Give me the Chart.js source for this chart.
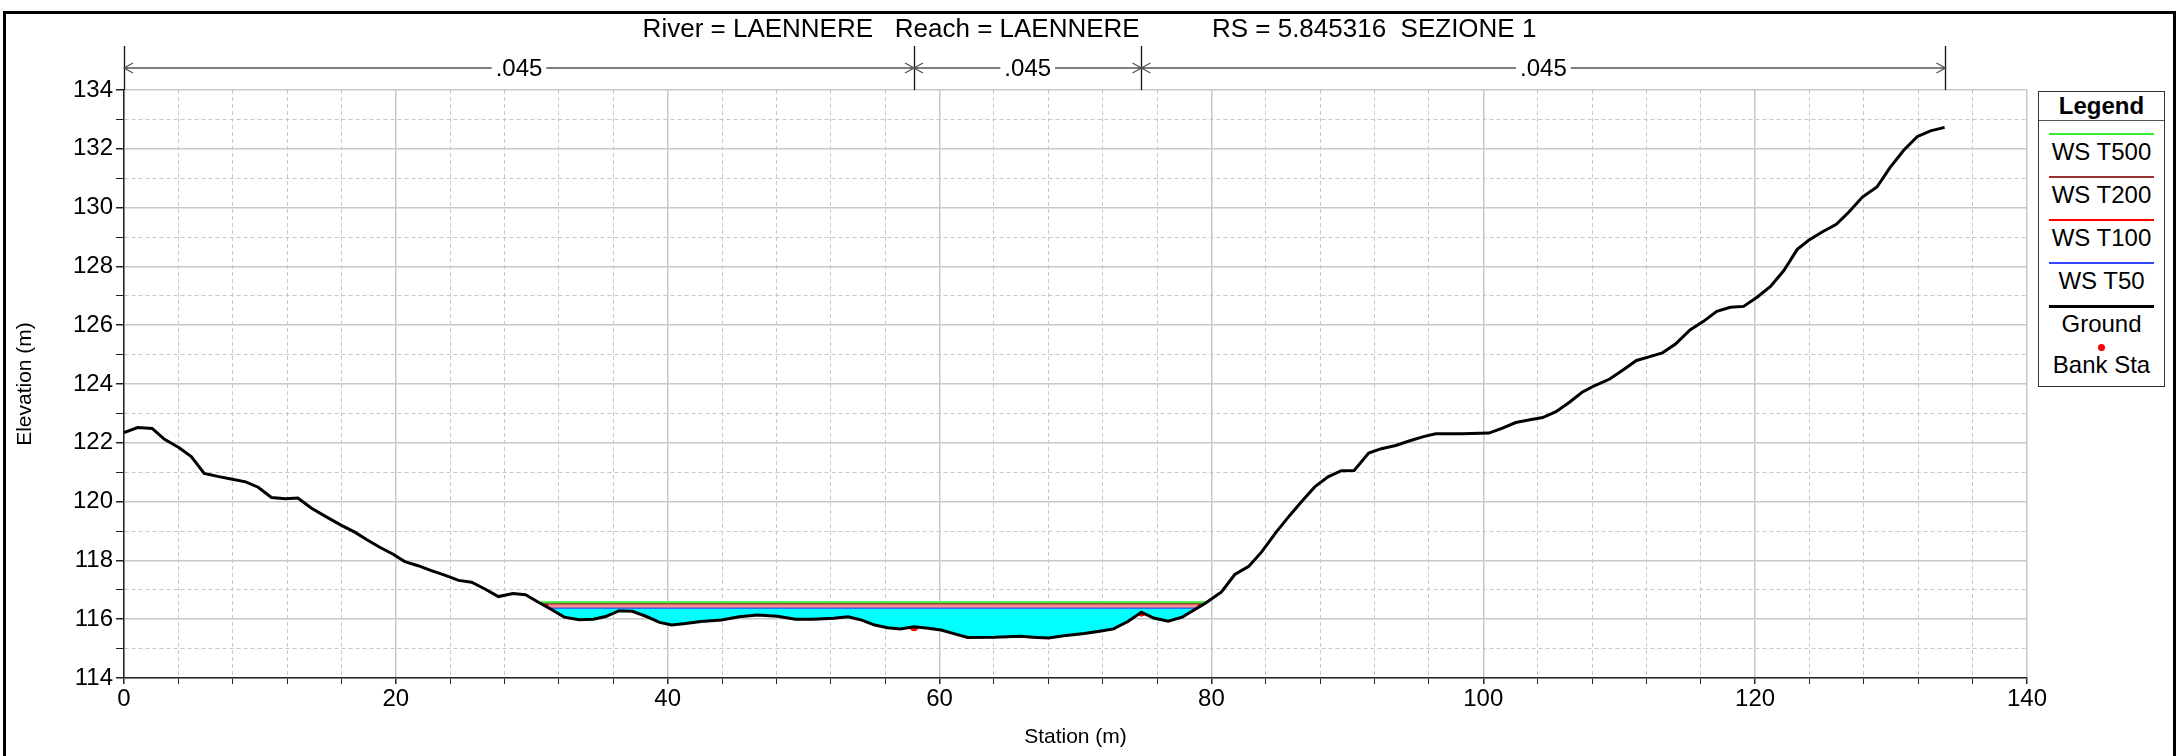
<!DOCTYPE html>
<html lang="it">
<head>
  <meta charset="UTF-8" />
  <title>RS 5.845316 SEZIONE 1</title>
  <script src="https://cdn.jsdelivr.net/npm/chart.js"></script>
<style>
  body {
    margin: 0;
    background: white;
    font-family: "Liberation Sans", Arial, sans-serif;
  }
  #wrap {
    position: relative;
    width: 2179px;
    height: 756px;
  }
  #legend {
    position: absolute;
    left: 2038px;
    top: 91px;
    width: 125px;
    height: 294px;
    border: 1.5px solid #333;
    background: white;
    font-size: 24px;
    text-align: center;
  }
  #legend .head {
    height: 28px;
    line-height: 28px;
    font-weight: bold;
    border-bottom: 1.5px solid #555;
  }
  #legend .item {
    height: 43px;
    position: relative;
  }
  #legend .swatch {
    position: absolute;
    left: 10px;
    right: 10px;
    top: 12px;
  }
  #legend .lbl {
    position: absolute;
    left: 0;
    right: 0;
    top: 17px;
  }
  .dot {
    width: 7px;
    height: 7px;
    border-radius: 4px;
    background: red;
    margin: 0 auto;
  }
</style>
</head>
<body>
  <div id="wrap">
    <canvas id="chart"></canvas>
    <div id="legend"></div>
  </div>

  <script>
    // --- dati ---
    const titleText = "River = LAENNERE   Reach = LAENNERE          RS = 5.845316  SEZIONE 1";

    const groundSta = [0, 1.0, 2.07, 2.98, 4.03, 4.95, 5.9, 6.98, 7.97, 8.95, 9.87, 10.85, 11.9, 12.79,
      13.77, 14.85, 16.0, 16.98, 17.87, 18.85, 19.77, 20.66, 21.64, 22.56, 23.54, 24.62, 25.57, 26.59,
      27.54, 28.62, 29.54, 30.52, 31.48, 32.39, 33.48, 34.52, 35.44, 36.43, 37.4, 38.4, 39.4, 40.3,
      41.3, 42.44, 43.95, 45.26, 46.58, 48.08, 49.4, 50.7, 52.2, 53.27, 54.28, 55.23, 56.17, 57.1,
      58.12, 59.17, 60.11, 61.05, 62.07, 64.06, 65.94, 66.88, 68.0, 69.14, 70.64, 71.77, 72.8, 73.85,
      74.85, 75.75, 76.82, 77.85, 79.58, 80.74, 81.72, 82.75, 83.68, 84.78, 85.76, 86.67, 87.6, 88.58,
      89.56, 90.5, 91.57, 92.5, 93.55, 94.6, 95.6, 96.5, 98.45, 100.42, 101.41, 102.39, 103.24, 104.37,
      105.35, 106.34, 107.27, 108.17, 109.3, 110.28, 111.27, 112.25, 113.18, 114.14, 115.21, 116.2,
      117.18, 118.17, 119.15, 120.14, 121.13, 122.11, 123.1, 123.94, 124.93, 125.97, 126.9, 127.89,
      128.96, 129.92, 130.93, 131.92, 132.9, 133.94];
    const groundElev = [122.35, 122.52, 122.49, 122.12, 121.84, 121.53, 120.96, 120.85, 120.76, 120.67,
      120.49, 120.14, 120.10, 120.12, 119.78, 119.49, 119.19, 118.96, 118.70, 118.44, 118.22, 117.96,
      117.82, 117.66, 117.51, 117.32, 117.26, 117.02, 116.77, 116.87, 116.83, 116.57, 116.32, 116.07,
      115.98, 116.0, 116.09, 116.29, 116.27, 116.10, 115.89, 115.80, 115.85, 115.92, 115.97, 116.08,
      116.14, 116.10, 116.0, 116.0, 116.03, 116.08, 115.97, 115.80, 115.71, 115.67, 115.74, 115.69,
      115.63, 115.51, 115.38, 115.39, 115.42, 115.39, 115.36, 115.44, 115.51, 115.59, 115.67, 115.92,
      116.24, 116.04, 115.93, 116.07, 116.55, 116.93, 117.52, 117.80, 118.28, 118.97, 119.53, 120.02,
      120.5, 120.84, 121.05, 121.06, 121.65, 121.8, 121.91, 122.07, 122.21, 122.31, 122.31, 122.33,
      122.5, 122.69, 122.77, 122.86, 123.06, 123.38, 123.72, 123.94, 124.17, 124.48, 124.80, 124.93,
      125.06, 125.36, 125.84, 126.13, 126.47, 126.61, 126.64, 126.95, 127.32, 127.86, 128.58, 128.89,
      129.17, 129.43, 129.85, 130.36, 130.70, 131.36, 131.95, 132.41, 132.61, 132.73];

    const wsNames = ["WS T500", "WS T200", "WS T100", "WS T50"];
    const wsElev = [116.58, 116.53, 116.48, 116.39];
    const wsColors = ["#33ee33", "#993333", "#ff0000", "#3344ff"];

    const bankSta = [58.12, 74.85];
    const bankElev = [115.74, 116.24];

    const nBreaks = [0, 58.12, 74.85, 134];
    const nValues = [".045", ".045", ".045"];

    const FONT = '"Liberation Sans", Arial, sans-serif';

    // punto in cui il pelo libero incontra il terreno (sx e dx del fondo alveo)
    function edges(ws) {
      let iMin = -1;
      for (let i = 0; i < groundElev.length; i++) {
        if (groundSta[i] > 30 && groundSta[i] < 80 && (iMin < 0 || groundElev[i] < groundElev[iMin])) iMin = i;
      }
      let i = iMin;
      while (i > 0 && groundElev[i - 1] < ws) i--;
      const l = groundSta[i - 1] + (ws - groundElev[i - 1]) * (groundSta[i] - groundSta[i - 1]) / (groundElev[i] - groundElev[i - 1]);
      let j = iMin;
      while (j < groundElev.length - 1 && groundElev[j + 1] < ws) j++;
      const r = groundSta[j] + (ws - groundElev[j]) * (groundSta[j + 1] - groundSta[j]) / (groundElev[j + 1] - groundElev[j]);
      return [l, r];
    }

    const groundData = groundSta.map((s, i) => ({ x: s, y: groundElev[i] }));

    const datasets = [
      {
        label: "Ground",
        data: groundData,
        borderColor: "#000",
        borderWidth: 3,
        pointRadius: 0,
        fill: false
      }
    ];
    wsNames.forEach((name, k) => {
      const [l, r] = edges(wsElev[k]);
      const ds = {
        label: name,
        data: [{ x: l, y: wsElev[k] }, { x: r, y: wsElev[k] }],
        borderColor: wsColors[k],
        borderWidth: 2,
        pointRadius: 0,
        fill: false
      };
      if (k === wsNames.length - 1) {
        ds.fill = { target: 0, above: "#00ffff", below: "rgba(0,0,0,0)" };
      } else if (k === 1) {
        ds.fill = { target: 4, above: "#ff8c8c", below: "rgba(0,0,0,0)" };
      }
      datasets.push(ds);
    });
    datasets.push({
      label: "Bank Sta",
      type: "scatter",
      data: bankSta.map((s, i) => ({ x: s, y: bankElev[i] })),
      backgroundColor: "#ff0000",
      borderColor: "#ff0000",
      pointRadius: 4
    });

    const decor = {
      id: "decor",
      afterDraw(chart) {
        const { ctx, chartArea } = chart;
        const xs = chart.scales.x;
        ctx.save();
        // cornice
        ctx.strokeStyle = "#000";
        ctx.lineWidth = 3;
        ctx.strokeRect(4.5, 12.5, 2170, 760);

        ctx.fillStyle = "#000";
        ctx.font = "26px " + FONT;
        ctx.textAlign = "center";
        ctx.textBaseline = "middle";
        ctx.fillText(titleText, chart.width / 2, 30);

        // linee dei coefficienti di Manning
        const yLine = 68, yTop = 46;
        ctx.font = "24px " + FONT;
        ctx.lineWidth = 1.3;
        ctx.strokeStyle = "#111";
        nBreaks.forEach(s => {
          const px = Math.round(xs.getPixelForValue(s)) + 0.5;
          ctx.beginPath();
          ctx.moveTo(px, yTop);
          ctx.lineTo(px, chartArea.top);
          ctx.stroke();
        });
        ctx.strokeStyle = "#555";
        for (let i = 0; i < nValues.length; i++) {
          const a = xs.getPixelForValue(nBreaks[i]);
          const b = xs.getPixelForValue(nBreaks[i + 1]);
          ctx.beginPath();
          ctx.moveTo(a, yLine); ctx.lineTo(b, yLine);
          ctx.moveTo(a + 9, yLine - 5); ctx.lineTo(a, yLine); ctx.lineTo(a + 9, yLine + 5);
          ctx.moveTo(b - 9, yLine - 5); ctx.lineTo(b, yLine); ctx.lineTo(b - 9, yLine + 5);
          ctx.stroke();
          const mid = (a + b) / 2;
          const w = ctx.measureText(nValues[i]).width + 8;
          ctx.fillStyle = "#fff";
          ctx.fillRect(mid - w / 2, yLine - 12, w, 24);
          ctx.fillStyle = "#000";
          ctx.fillText(nValues[i], mid, yLine + 1);
        }
        ctx.restore();
      }
    };

    const minorDash = [4, 3];

    new Chart(document.getElementById("chart"), {
      type: "line",
      data: { datasets },
      plugins: [decor],
      options: {
        responsive: true,
        maintainAspectRatio: false,
        animation: false,
        parsing: false,
        layout: { padding: { left: 4, right: 152, top: 90, bottom: 0 } },
        plugins: {
          legend: { display: false },
          tooltip: { enabled: false }
        },
        scales: {
          x: {
            type: "linear",
            min: 0,
            max: 140,
            afterFit: (s) => { s.height = 78; },
            ticks: {
              stepSize: 4,
              autoSkip: false,
              maxRotation: 0,
              padding: 1,
              color: "#000",
              font: { family: FONT, size: 24 },
              callback: (v) => (v % 20 === 0 ? v : "")
            },
            grid: {
              color: "#c8c8c8",
              lineWidth: (c) => (c.tick && c.tick.value % 20 === 0 ? 1.5 : 1),
              tickLength: 6,
              tickColor: "#222"
            },
            border: {
              color: "#222",
              width: 1.5,
              dash: (c) => (c.tick && c.tick.value % 20 !== 0 ? minorDash : [])
            },
            title: {
              display: true,
              text: "Station (m)",
              color: "#000",
              font: { family: FONT, size: 21, lineHeight: 1 },
              padding: { top: 0, bottom: 8 }
            }
          },
          y: {
            type: "linear",
            min: 114,
            max: 134,
            afterFit: (s) => { s.width = 120; },
            ticks: {
              stepSize: 1,
              autoSkip: false,
              padding: 3,
              color: "#000",
              font: { family: FONT, size: 24 },
              callback: (v) => (v % 2 === 0 ? v : "")
            },
            grid: {
              color: "#c8c8c8",
              lineWidth: (c) => (c.tick && c.tick.value % 2 === 0 ? 1.5 : 1),
              tickLength: 8,
              tickColor: "#222"
            },
            border: {
              color: "#222",
              width: 1.5,
              dash: (c) => (c.tick && c.tick.value % 2 !== 0 ? minorDash : [])
            },
            title: {
              display: true,
              text: "Elevation (m)",
              color: "#000",
              font: { family: FONT, size: 21, lineHeight: 1.2 },
              padding: { top: 9, bottom: 0 }
            }
          }
        }
      }
    });

    // legenda
    const legend = document.getElementById("legend");
    let html = '<div class="head">Legend</div>';
    wsNames.forEach((n, k) => {
      html += '<div class="item"><div class="swatch" style="border-top:2px solid ' + wsColors[k] + '"></div><div class="lbl">' + n + '</div></div>';
    });
    html += '<div class="item"><div class="swatch" style="border-top:3px solid #000"></div><div class="lbl">Ground</div></div>';
    html += '<div class="item" style="height:40px"><div style="position:absolute;left:0;right:0;top:8px"><div class="dot"></div></div><div class="lbl" style="top:15px">Bank Sta</div></div>';
    legend.innerHTML = html;
  </script>
</body>
</html>
